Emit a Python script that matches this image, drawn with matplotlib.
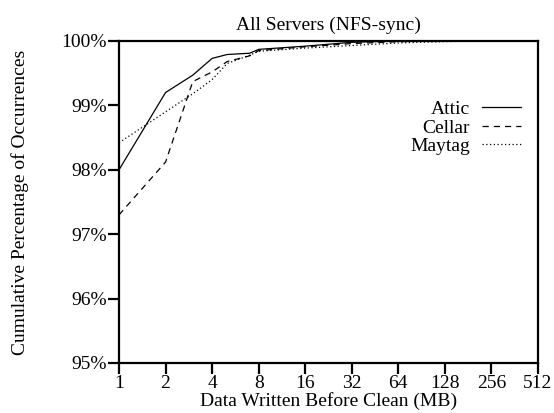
import matplotlib.pyplot as plt
import numpy as np

plt.rcParams['font.family'] = ['Liberation Serif', 'DejaVu Serif']

# data written before clean (MB) vs cumulative percentage of occurrences
attic_x = [1, 2, 3, 4, 5, 7, 8, 16, 32, 64]
attic_y = [98.00, 99.20, 99.47, 99.73, 99.79, 99.81, 99.87, 99.92, 99.98, 100.0]

cellar_x = [1, 2, 3, 4, 5, 7, 8, 16, 32, 64, 128]
cellar_y = [97.30, 98.12, 99.37, 99.52, 99.68, 99.77, 99.85, 99.91, 99.96, 99.99, 100.0]

maytag_x = [1, 2, 3, 4, 5, 7, 8, 16, 32, 64, 128, 200]
maytag_y = [98.42, 98.90, 99.18, 99.40, 99.65, 99.78, 99.84, 99.89, 99.93, 99.97, 99.99, 100.0]

xticks = [1, 2, 4, 8, 16, 32, 64, 128, 256, 512]
yticks = [95, 96, 97, 98, 99, 100]

fs = 14

fig = plt.figure(figsize=(5.54, 4.13), dpi=100)
ax = fig.add_axes([119 / 554, 50 / 413, 419 / 554, 322 / 413])

ax.plot(attic_x, attic_y, color='black', lw=0.9, ls='-', label='Attic')
ax.plot(cellar_x, cellar_y, color='black', lw=0.9, ls=(0, (5, 4)), label='Cellar')
ax.plot(maytag_x, maytag_y, color='black', lw=0.9, ls=(0, (1, 2)), label='Maytag')

ax.set_xscale('log', base=2)
ax.set_xlim(1, 512)
ax.set_ylim(95, 100)
ax.set_xticks(xticks)
ax.set_xticklabels([str(v) for v in xticks])
ax.minorticks_off()
ax.set_yticks(yticks)
ax.set_yticklabels(['%d%%' % v for v in yticks])

for s in ax.spines.values():
    s.set_linewidth(1.6)
ax.tick_params(direction='out', length=8, width=1.6, labelsize=fs, pad=1)

ax.set_xlabel('Data Written Before Clean (MB)', fontsize=fs, labelpad=0)
ax.set_ylabel('Cumulative Percentage of Occurrences', fontsize=fs, labelpad=23)
ax.set_title('All Servers (NFS-sync)', fontsize=fs, pad=8)

ax.legend(loc='upper right', bbox_to_anchor=(1.0, 0.87), frameon=False,
          markerfirst=False, fontsize=fs, handlelength=2.0,
          handletextpad=0.6, labelspacing=0.05)

fig.savefig('out.png', dpi=100)
